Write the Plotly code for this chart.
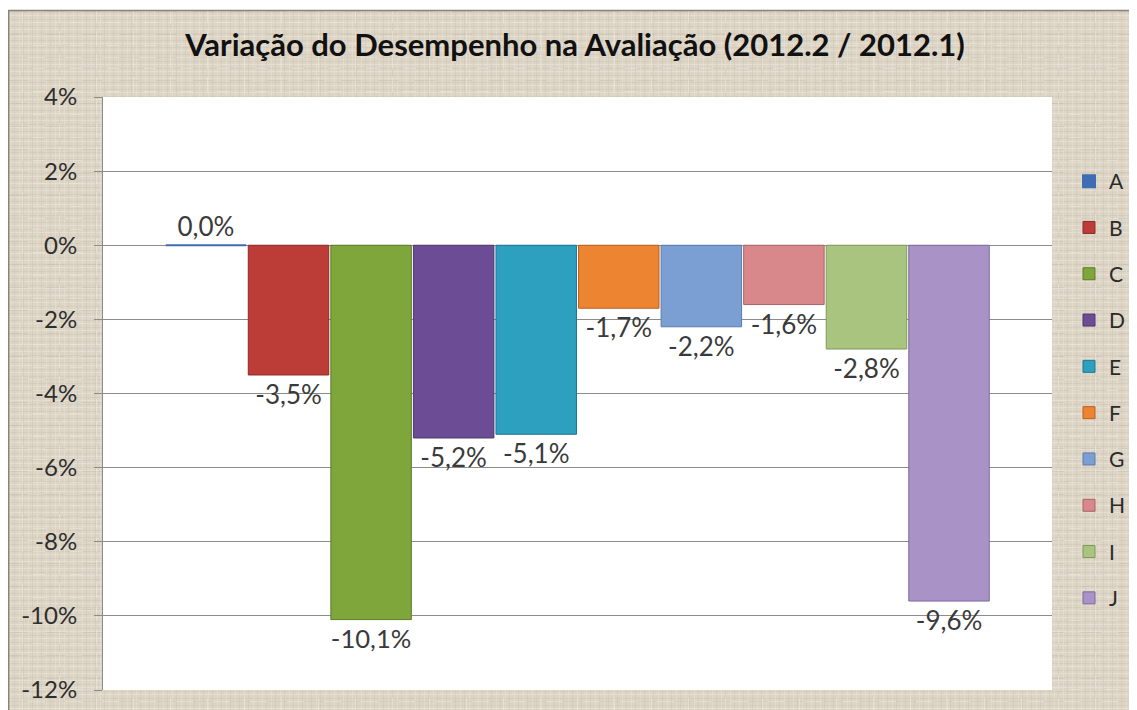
import base64
import plotly.graph_objects as go

series = ["A", "B", "C", "D", "E", "F", "G", "H", "I", "J"]
values = [0.000, -0.035, -0.101, -0.052, -0.051, -0.017, -0.022, -0.016, -0.028, -0.096]
colors = ["#3E6DB3", "#BC3C38", "#7EA63A", "#6C4D95", "#2EA0BF",
          "#EC8431", "#7C9FD3", "#D8888A", "#A9C47F", "#A892C6"]
lines = ["#2A4F86", "#8E2A27", "#5C7C28", "#4E3770", "#1F7690",
         "#B8621F", "#5A7CAE", "#A86466", "#7F9A58", "#7E6A9E"]
category = ["Avaliação"]
tick_vals = [0.04, 0.02, 0.0, -0.02, -0.04, -0.06, -0.08, -0.10, -0.12]
tick_text = ["4%", "2%", "0%", "-2%", "-4%", "-6%", "-8%", "-10%", "-12%"]


def pct_label(v):
    return f"{v * 100:.1f}%".replace(".", ",")


# figure coordinates (page is offset by the 8px body margin)
W, H = 1129, 702
L, R, T, B = 95, 1044, 89, 682


def px(xp):
    return (xp - L) / (R - L)


def py(yp):
    return (B - yp) / (B - T)


# linen-like texture as a tiled SVG pattern (decoration only)
svg = f"""<svg xmlns='http://www.w3.org/2000/svg' width='{W}' height='{H}'>
<defs><pattern id='p' width='9' height='7' patternUnits='userSpaceOnUse'>
<rect width='9' height='7' fill='#DCD4C5'/>
<rect x='0' y='0' width='9' height='1' fill='#E7E1D5' opacity='0.8'/>
<rect x='0' y='4' width='9' height='1' fill='#D2C9B8' opacity='0.7'/>
<rect x='2' y='0' width='1' height='7' fill='#E6DFD3' opacity='0.6'/>
<rect x='6' y='0' width='1' height='7' fill='#CFC5B3' opacity='0.5'/>
</pattern>
<pattern id='q' width='37' height='23' patternUnits='userSpaceOnUse'>
<rect x='0' y='3' width='20' height='1' fill='#C8BEAB' opacity='0.5'/>
<rect x='14' y='0' width='1' height='15' fill='#EEE9DF' opacity='0.6'/>
<rect x='25' y='14' width='12' height='1' fill='#EFEAE0' opacity='0.5'/>
</pattern></defs>
<rect width='{W}' height='{H}' fill='url(#p)'/>
<rect width='{W}' height='{H}' fill='url(#q)'/>
</svg>"""
texture = "data:image/svg+xml;base64," + base64.b64encode(svg.encode()).decode()

fig = go.Figure()
for s, v, c, lc in zip(series, values, colors, lines):
    fig.add_trace(go.Bar(
        name=s, x=category, y=[v],
        marker=dict(color=c, line=dict(color=lc if v != 0 else c, width=1 if v != 0 else 2)),
        text=[pct_label(v)], texttemplate="%{text}", textposition="outside",
        textfont=dict(family="Lato", size=26, color="#3A3A3A"),
        cliponaxis=False, legendgroup=s,
    ))

shapes = [
    # white plot area over the texture
    dict(type="rect", xref="paper", yref="paper", x0=0, x1=1, y0=0, y1=1,
         fillcolor="white", line=dict(width=0), layer="below"),
    # white page strip above the chart area
    dict(type="rect", xref="paper", yref="paper", x0=px(0), x1=px(W), y0=py(2), y1=py(0),
         fillcolor="white", line=dict(width=0), layer="below"),
    dict(type="line", xref="paper", yref="paper", x0=px(0), x1=px(W), y0=py(2.5), y1=py(2.5),
         line=dict(color="#8A8378", width=1.5), layer="below"),
    dict(type="line", xref="paper", yref="paper", x0=px(0.7), x1=px(0.7), y0=py(2), y1=py(H),
         line=dict(color="#8A8378", width=1.5), layer="below"),
]

fig.update_layout(
    width=W, height=H,
    margin=dict(l=L, r=W - R, t=T, b=H - B, autoexpand=False),
    paper_bgcolor="#DCD4C5", plot_bgcolor="white",
    barmode="group", bargap=0.13, bargroupgap=0.025,
    title=dict(text="<b>Variação do Desempenho na Avaliação (2012.2 / 2012.1)</b>",
               x=567 / W, xanchor="center", y=1 - 37 / H, yanchor="middle",
               font=dict(family="Lato", size=31, color="#111111")),
    font=dict(family="Lato", color="#404040"),
    showlegend=True,
    legend=dict(x=px(1061), xanchor="left", y=py(382), yanchor="middle",
                traceorder="grouped", tracegroupgap=16,
                font=dict(family="Lato", size=21, color="#2A2A2A"),
                bgcolor="rgba(0,0,0,0)", itemwidth=30),
    shapes=shapes,
    images=[dict(source=texture, xref="paper", yref="paper",
                 x=px(0), y=py(0), sizex=W / (R - L), sizey=H / (B - T),
                 xanchor="left", yanchor="top", sizing="stretch", layer="below")],
)
fig.update_xaxes(showticklabels=False, showgrid=False, showline=False, ticks="", zeroline=False)
fig.update_yaxes(range=[-0.12, 0.04], tickvals=tick_vals, ticktext=tick_text,
                 showgrid=True, gridcolor="#8C8C8C", gridwidth=1,
                 zeroline=False, showline=True, linecolor="#8C8C8C", linewidth=1,
                 ticks="outside", ticklen=8, tickcolor="#8C8C8C",
                 ticklabelstandoff=12, automargin=False,
                 tickfont=dict(family="Lato", size=24, color="#2E2E2E"))

fig.write_html("out.html")
